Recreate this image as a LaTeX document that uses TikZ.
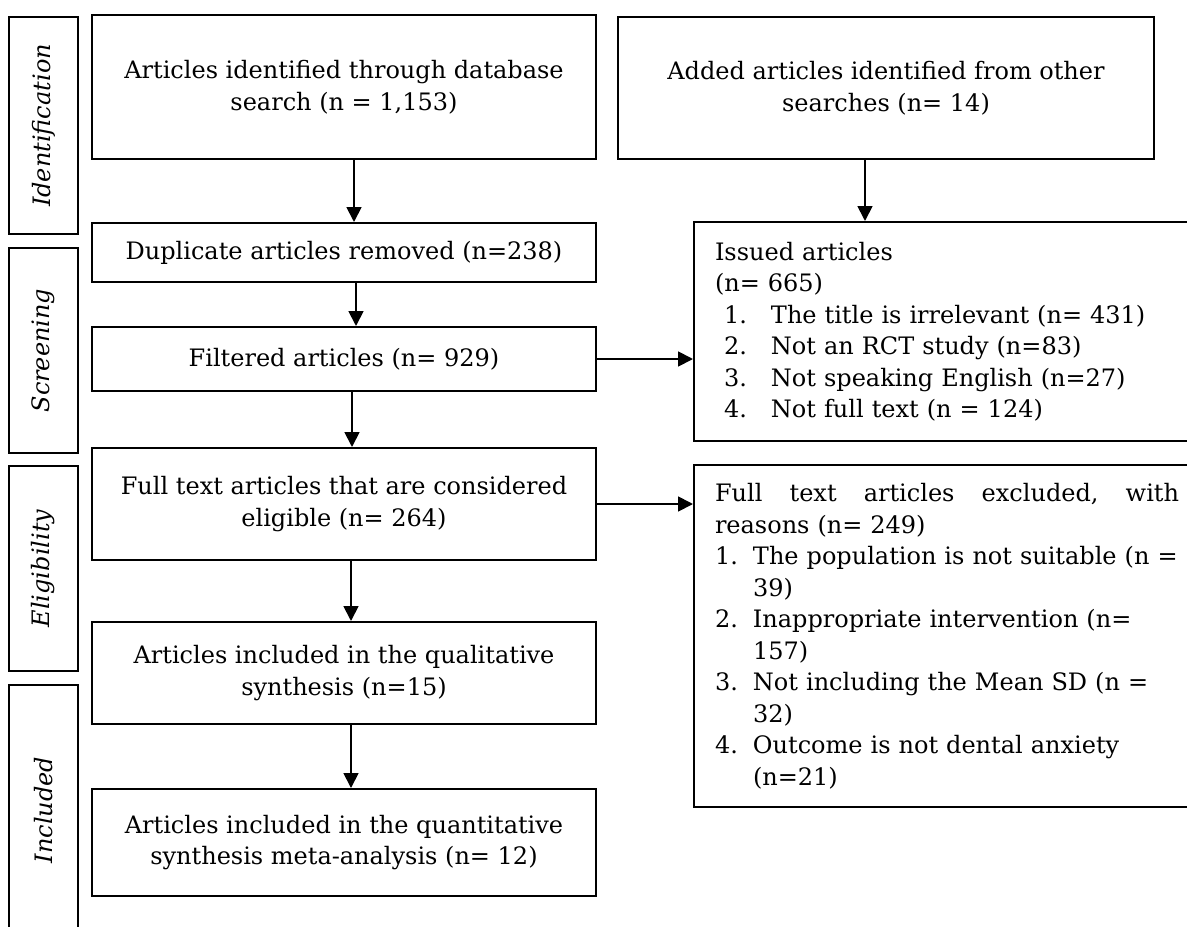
\documentclass[tikz,border=0pt]{standalone}
\usepackage{fontspec}
\setmainfont{DejaVu Serif}
\usetikzlibrary{positioning, arrows.meta}
\newcommand{\bodysize}{\fontsize{24}{31.5}\selectfont}
\tikzset{
        >={Triangle[length=15pt, width=15pt]}, % filled arrow heads
        every node/.style={font=\bodysize}, % same text size everywhere
        box/.style={draw, line width=2pt, align=center, minimum width=504pt, inner sep=0pt}, % boxes of the main column
        sidebox/.style={draw, line width=2pt, align=left, text width=472pt, inner xsep=21pt, inner ysep=0pt, anchor=north west}, % boxes on the right
        phase/.style={draw, line width=2pt, rotate=90, minimum height=69pt, font=\bodysize\itshape}, % phase labels on the left
        flow/.style={draw, ->, line width=1.8pt}, % connectors
    }

\begin{document}
\begin{tikzpicture}[node distance=62pt]
    \useasboundingbox (0,0) rectangle (1187pt,-927pt);
    % phases
    \node[phase, minimum width=217pt] (idlab) at (43.5pt,-125.5pt) {Identification};
    \node[phase, minimum width=205pt] (scrlab) at (43.5pt,-350.5pt) {Screening};
    \node[phase, minimum width=205pt] (elilab) at (43.5pt,-568.5pt) {Eligibility};
    \node[phase, minimum width=250pt] (inclab) at (43.5pt,-810pt) {Included};
    % main column
    \node[box, minimum height=144pt] (dbs) at (344pt,-87pt) {Articles identified through database\\search (n = 1,153)};
    \node[box, minimum height=59pt, below=of dbs] (dup) {Duplicate articles removed (n=238)};
    \node[box, minimum height=64pt, below=43pt of dup] (filt) {Filtered articles (n= 929)};
    \node[box, minimum height=112pt, below=55pt of filt] (full) {Full text articles that are considered\\eligible (n= 264)};
    \node[box, minimum height=102pt, below=60pt of full] (qual) {Articles included in the qualitative\\synthesis (n=15)};
    \node[box, minimum height=107pt, below=63pt of qual] (quant) {Articles included in the quantitative\\synthesis meta-analysis (n= 12)};
    % right column
    \node[box, minimum width=536pt, minimum height=142pt] (other) at (886pt,-88pt) {Added articles identified from other\\searches (n= 14)};
    \node[sidebox, minimum height=219pt] (issued) at (693pt,-221pt) {Issued articles\\
      (n= 665)\\
      \hspace*{9pt}\makebox[47pt][l]{1.}The title is irrelevant (n= 431)\\
      \hspace*{9pt}\makebox[47pt][l]{2.}Not an RCT study (n=83)\\
      \hspace*{9pt}\makebox[47pt][l]{3.}Not speaking English (n=27)\\
      \hspace*{9pt}\makebox[47pt][l]{4.}Not full text (n = 124)};
    \node[sidebox, minimum height=342pt] (excl) at (693pt,-464pt) {\makebox[464pt][s]{Full\hfill text\hfill articles\hfill excluded,\hfill with}\\
      reasons (n= 249)\\
      \makebox[38pt][l]{1.}The population is not suitable (n =\\
      \hspace*{38pt}39)\\
      \makebox[38pt][l]{2.}Inappropriate intervention (n=\\
      \hspace*{38pt}157)\\
      \makebox[38pt][l]{3.}Not including the Mean SD (n =\\
      \hspace*{38pt}32)\\
      \makebox[38pt][l]{4.}Outcome is not dental anxiety\\
      \hspace*{38pt}(n=21)};
    \coordinate (otherout) at ([xshift=-21pt]other.south);
    \path
      ([xshift=10pt]dbs.south) edge[flow] ([xshift=10pt]dup.north)
      ([xshift=12pt]dup.south) edge[flow] ([xshift=12pt]filt.north)
      ([xshift=8pt]filt.south) edge[flow] ([xshift=8pt]full.north)
      ([xshift=7pt]full.south) edge[flow] ([xshift=7pt]qual.north)
      ([xshift=7pt]qual.south) edge[flow] ([xshift=7pt]quant.north)
      (otherout) edge[flow] (otherout |- issued.north)
      (filt.east) edge[flow] (filt.east -| issued.west)
      (full.east) edge[flow] (full.east -| excl.west);
\end{tikzpicture}
\end{document}
